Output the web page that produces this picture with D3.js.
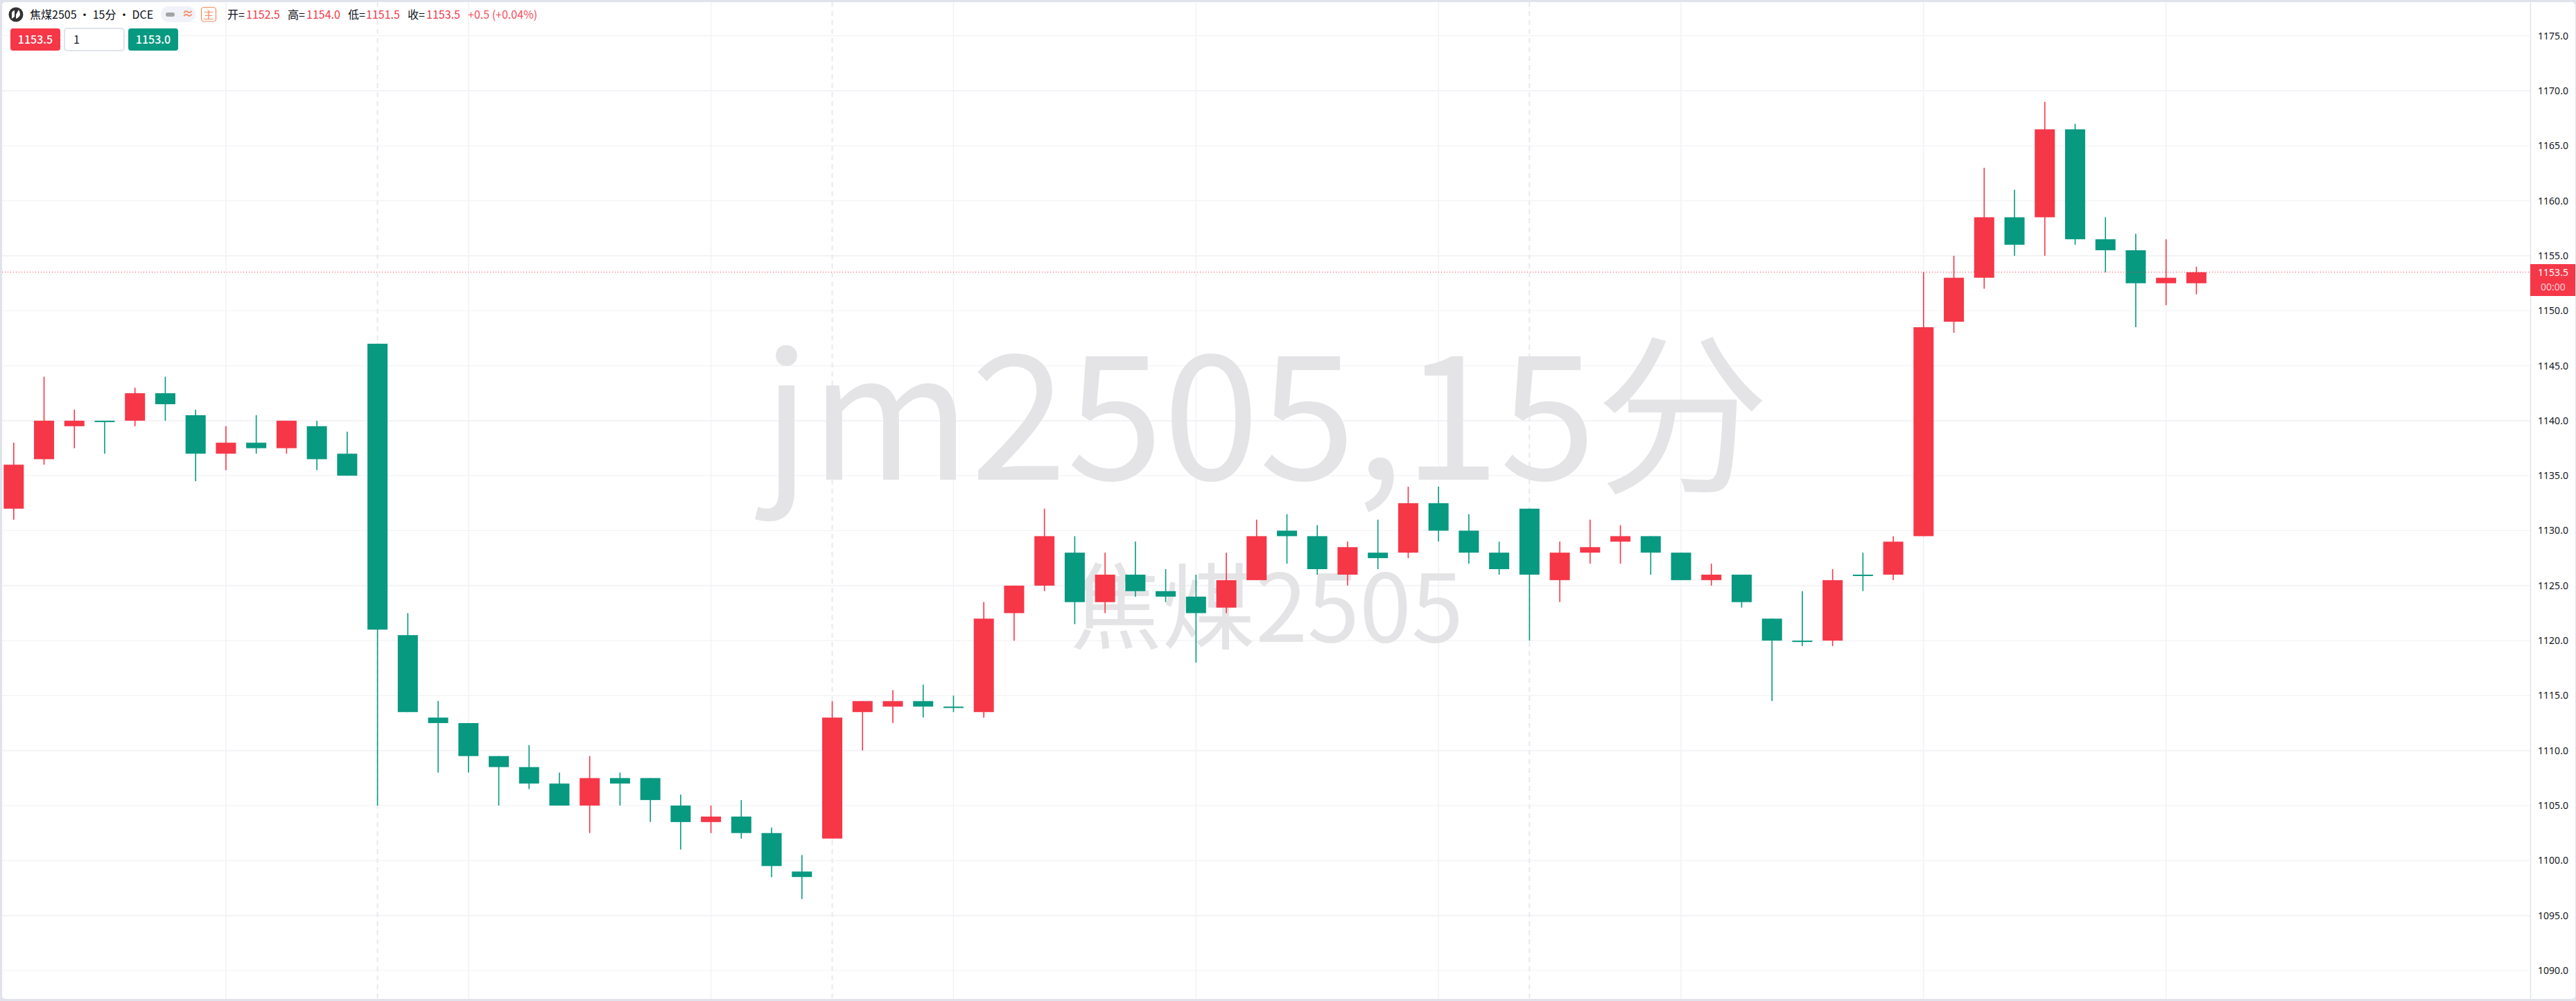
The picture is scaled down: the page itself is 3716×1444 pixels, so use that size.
<!DOCTYPE html>
<html>

    <head>
        <meta charset="utf-8">
        <script src="https://d3js.org/d3.v7.min.js"></script>
        <style>
            html, body { margin: 0; padding: 0; background: #e0e3eb; }
            svg { display: block; }
            text { font-family: "Noto Sans CJK SC", "Noto Sans", sans-serif; }
        </style>
    </head>

    <body>
        <div id="chart-container"></div>

        <script>
            // Candles, oldest first (15 minute bars)
            const opens = [
                1132, 1136.5, 1139.5, 1140, 1140, 1142.5, 1140.5, 1137, 1138, 1137.5,
                1139.5, 1137, 1147, 1120.5, 1113, 1112.5, 1109.5, 1108.5, 1107, 1105,
                1107.5, 1107.5, 1105, 1103.5, 1104, 1102.5, 1099, 1102, 1113.5, 1114,
                1114.5, 1114, 1113.5, 1122.5, 1125, 1128, 1123.5, 1126, 1124.5, 1124,
                1123, 1125.5, 1130, 1129.5, 1126, 1128, 1128, 1132.5, 1130, 1128,
                1132, 1125.5, 1128, 1129, 1129.5, 1128, 1125.5, 1126, 1122, 1120,
                1120, 1126, 1126, 1129.5, 1149, 1153, 1158.5, 1158.5, 1166.5, 1156.5,
                1155.5, 1152.5, 1152.5
            ];
            const highs = [
                1138, 1144, 1141, 1140, 1143, 1144, 1141, 1139.5, 1140.5, 1140,
                1140, 1139, 1147, 1122.5, 1114.5, 1112.5, 1109.5, 1110.5, 1108, 1109.5,
                1108, 1107.5, 1106, 1105, 1105.5, 1103, 1100.5, 1114.5, 1114.5, 1115.5,
                1116, 1115, 1123.5, 1125, 1132, 1129.5, 1128, 1129, 1126.5, 1126,
                1128, 1131, 1131.5, 1130.5, 1129, 1131, 1134, 1134, 1131.5, 1129,
                1132, 1129, 1131, 1130.5, 1129.5, 1128, 1127, 1126, 1122, 1124.5,
                1126.5, 1128, 1129.5, 1153.5, 1155, 1163, 1161, 1169, 1167, 1158.5,
                1157, 1156.5, 1154
            ];
            const lows = [
                1131, 1136, 1137.5, 1137, 1139.5, 1140, 1134.5, 1135.5, 1137, 1137,
                1135.5, 1135, 1105, 1113.5, 1108, 1108, 1105, 1106.5, 1105, 1102.5,
                1105, 1103.5, 1101, 1102.5, 1102, 1098.5, 1096.5, 1102, 1110, 1112.5,
                1113, 1113.5, 1113, 1120, 1124.5, 1121.5, 1122.5, 1124, 1123.5, 1118,
                1122.5, 1125.5, 1127, 1126, 1125, 1126.5, 1127.5, 1129, 1127, 1126,
                1120, 1123.5, 1127, 1127, 1126, 1125.5, 1125, 1123, 1114.5, 1119.5,
                1119.5, 1124.5, 1125.5, 1129.5, 1148, 1152, 1155, 1155, 1156, 1153.5,
                1148.5, 1150.5, 1151.5
            ];
            const closes = [
                1136, 1140, 1140, 1140, 1142.5, 1141.5, 1137, 1138, 1137.5, 1140,
                1136.5, 1135, 1121, 1113.5, 1112.5, 1109.5, 1108.5, 1107, 1105, 1107.5,
                1107, 1105.5, 1103.5, 1104, 1102.5, 1099.5, 1098.5, 1113, 1114.5, 1114.5,
                1114, 1114, 1122, 1125, 1129.5, 1123.5, 1126, 1124.5, 1124, 1122.5,
                1125.5, 1129.5, 1129.5, 1126.5, 1128.5, 1127.5, 1132.5, 1130, 1128, 1126.5,
                1126, 1128, 1128.5, 1129.5, 1128, 1125.5, 1126, 1123.5, 1120, 1120,
                1125.5, 1126, 1129, 1148.5, 1153, 1158.5, 1156, 1166.5, 1156.5, 1155.5,
                1152.5, 1153, 1153.5
            ];

            // Axis ticks and the bar indexes where vertical grid lines sit
            const priceTicks = d3.range( 1090, 1176, 5 );
            const heavyTicks = [ 1095, 1110, 1125, 1140, 1155, 1170 ];
            const solidGridBars = [ 7, 15, 23, 31, 39, 47, 55, 63, 71 ];
            const dashedGridBars = [ 12, 27, 50 ];

            // Legend values
            const lastPrice = 1153.5;
            const bidAsk = [ "1153.5", "1", "1153.0" ];
            const ohlcLabels = [ "开", "高", "低", "收" ];
            const ohlcValues = [ "1152.5", "1154.0", "1151.5", "1153.5" ];

            const width = 3716;
            const height = 1444;
            const plot = { left: 3, right: 3650, top: 3, bottom: 1441 };
            const upColor = "#f53748";
            const downColor = "#089981";
            const bodyWidth = 29;

            const svg = d3.select( "#chart-container" )
                .append( "svg" )
                .attr( "width", width )
                .attr( "height", height );

            const xScale = d3.scaleLinear()
                .domain( [ 0, opens.length - 1 ] )
                .range( [ 19.8, 3168.4 ] );

            const yScale = d3.scaleLinear()
                .domain( [ 1175, 1090 ] )
                .range( [ 51.7, 1400 ] );

            // Card
            svg.append( "rect" )
                .attr( "x", plot.left )
                .attr( "y", plot.top )
                .attr( "width", width - 1 - plot.left )
                .attr( "height", plot.bottom - plot.top )
                .attr( "rx", 5 )
                .attr( "fill", "#ffffff" );

            // Grid
            const grid = svg.append( "g" );

            grid.selectAll( "line.h" )
                .data( priceTicks )
                .enter()
                .append( "line" )
                .attr( "class", "h" )
                .attr( "x1", plot.left )
                .attr( "x2", plot.right )
                .attr( "y1", d => yScale( d ) )
                .attr( "y2", d => yScale( d ) )
                .attr( "stroke", "#f3f3f7" )
                .attr( "stroke-width", d => heavyTicks.includes( d ) ? 2 : 1.2 );

            grid.selectAll( "line.v" )
                .data( solidGridBars )
                .enter()
                .append( "line" )
                .attr( "class", "v" )
                .attr( "x1", d => xScale( d ) )
                .attr( "x2", d => xScale( d ) )
                .attr( "y1", plot.top )
                .attr( "y2", plot.bottom )
                .attr( "stroke", "#f2f2f7" )
                .attr( "stroke-width", 1.5 );

            grid.selectAll( "line.d" )
                .data( dashedGridBars )
                .enter()
                .append( "line" )
                .attr( "class", "d" )
                .attr( "x1", d => xScale( d ) )
                .attr( "x2", d => xScale( d ) )
                .attr( "y1", plot.top )
                .attr( "y2", plot.bottom )
                .attr( "stroke", "#e8e8f1" )
                .attr( "stroke-width", 2 )
                .attr( "stroke-dasharray", "7 6" );

            // Watermark
            svg.append( "text" )
                .attr( "x", 1826 )
                .attr( "y", 692 )
                .attr( "text-anchor", "middle" )
                .attr( "font-size", 250 )
                .attr( "fill", "#e4e4e6" )
                .text( "jm2505,15分" );

            svg.append( "text" )
                .attr( "x", 1826 )
                .attr( "y", 926 )
                .attr( "text-anchor", "middle" )
                .attr( "font-size", 135 )
                .attr( "fill", "#e4e4e6" )
                .text( "焦煤2505" );

            // Candles
            const candleColor = i => closes[ i ] > opens[ i ] ? upColor : downColor;
            const candles = svg.append( "g" )
                .selectAll( "g" )
                .data( d3.range( opens.length ) )
                .enter()
                .append( "g" );

            candles.append( "line" )
                .attr( "x1", i => xScale( i ) )
                .attr( "x2", i => xScale( i ) )
                .attr( "y1", i => yScale( highs[ i ] ) )
                .attr( "y2", i => yScale( lows[ i ] ) )
                .attr( "stroke", candleColor )
                .attr( "stroke-width", 1.6 );

            candles.append( "rect" )
                .attr( "x", i => xScale( i ) - bodyWidth / 2 )
                .attr( "y", i => yScale( Math.max( opens[ i ], closes[ i ] ) ) )
                .attr( "width", bodyWidth )
                .attr( "height", i => Math.max( 2, Math.abs( yScale( opens[ i ] ) - yScale( closes[ i ] ) ) ) )
                .attr( "fill", candleColor );

            // Last price line
            svg.append( "line" )
                .attr( "x1", plot.left )
                .attr( "x2", plot.right )
                .attr( "y1", Math.round( yScale( lastPrice ) ) - 0.5 )
                .attr( "y2", Math.round( yScale( lastPrice ) ) - 0.5 )
                .attr( "stroke", upColor )
                .attr( "stroke-width", 1 )
                .attr( "stroke-dasharray", "1 3" );

            // Price axis
            const axis = svg.append( "g" )
                .attr( "transform", `translate(${ plot.right }, 0)` )
                .call( d3.axisRight( yScale )
                    .tickValues( priceTicks )
                    .tickFormat( d3.format( ".1f" ) )
                    .tickSize( 0 )
                    .tickPadding( 0 ) );

            axis.select( ".domain" ).remove();
            axis.selectAll( "text" )
                .attr( "x", 33 )
                .attr( "text-anchor", "middle" )
                .attr( "fill", "#131722" )
                .style( "font-size", "14px" )
                .style( "font-family", "'Noto Sans', sans-serif" );

            svg.append( "line" )
                .attr( "x1", plot.right + 0.5 )
                .attr( "x2", plot.right + 0.5 )
                .attr( "y1", plot.top )
                .attr( "y2", plot.bottom )
                .attr( "stroke", "#e0e3eb" )
                .attr( "stroke-width", 1.5 );

            // Last price tag
            svg.append( "rect" )
                .attr( "x", plot.right )
                .attr( "y", 381 )
                .attr( "width", 65 )
                .attr( "height", 46 )
                .attr( "fill", upColor );

            svg.append( "text" )
                .attr( "x", plot.right + 33 )
                .attr( "y", 398 )
                .attr( "text-anchor", "middle" )
                .attr( "font-size", 14 )
                .attr( "fill", "#ffffff" )
                .style( "font-family", "'Noto Sans', sans-serif" )
                .text( d3.format( ".1f" )( lastPrice ) );

            svg.append( "text" )
                .attr( "x", plot.right + 33 )
                .attr( "y", 419 )
                .attr( "text-anchor", "middle" )
                .attr( "font-size", 14 )
                .attr( "fill", "#fcd0d4" )
                .style( "font-family", "'Noto Sans', sans-serif" )
                .text( "00:00" );

            // Legend, first row
            const legend = svg.append( "g" );

            legend.append( "circle" )
                .attr( "cx", 23 )
                .attr( "cy", 21 )
                .attr( "r", 10.5 )
                .attr( "fill", "#333333" );

            legend.append( "path" )
                .attr( "d", "M17 27 L17 18 Q19 15 21 15 L21 24 Z M23 27 L23 21 L27 14 Q29 18 29 21 Q28 25 23 27 Z" )
                .attr( "fill", "#ffffff" );

            legend.append( "text" )
                .attr( "x", 43 )
                .attr( "y", 27 )
                .attr( "font-size", 16 )
                .attr( "fill", "#0b0e16" )
                .text( "焦煤2505 • 15分 • DCE" );

            legend.append( "rect" )
                .attr( "x", 232 )
                .attr( "y", 9 )
                .attr( "width", 50 )
                .attr( "height", 23 )
                .attr( "rx", 11 )
                .attr( "fill", "#f1f1f9" );

            legend.append( "rect" )
                .attr( "x", 239 )
                .attr( "y", 18 )
                .attr( "width", 13 )
                .attr( "height", 6 )
                .attr( "rx", 3 )
                .attr( "fill", "#a3a3a6" );

            legend.append( "text" )
                .attr( "x", 271 )
                .attr( "y", 26 )
                .attr( "text-anchor", "middle" )
                .attr( "font-size", 17 )
                .attr( "font-weight", 700 )
                .attr( "fill", "#f98a5c" )
                .text( "≈" );

            legend.append( "rect" )
                .attr( "x", 290.5 )
                .attr( "y", 10.5 )
                .attr( "width", 21 )
                .attr( "height", 20.5 )
                .attr( "rx", 4 )
                .attr( "fill", "#ffffff" )
                .attr( "stroke", "#f98a5c" )
                .attr( "stroke-width", 1.2 );

            legend.append( "text" )
                .attr( "x", 301 )
                .attr( "y", 26.5 )
                .attr( "text-anchor", "middle" )
                .attr( "font-size", 15 )
                .attr( "fill", "#f98a5c" )
                .text( "主" );

            const labelX = [ 328, 415, 502, 588 ];
            const valueX = [ 355, 442, 528, 615 ];

            ohlcLabels.forEach( ( label, i ) => {
                legend.append( "text" )
                    .attr( "x", labelX[ i ] )
                    .attr( "y", 27 )
                    .attr( "font-size", 16 )
                    .attr( "fill", "#0b0e16" )
                    .text( label + "=" );

                legend.append( "text" )
                    .attr( "x", valueX[ i ] )
                    .attr( "y", 27 )
                    .attr( "font-size", 16 )
                    .attr( "fill", upColor )
                    .text( ohlcValues[ i ] );
            } );

            legend.append( "text" )
                .attr( "x", 675 )
                .attr( "y", 27 )
                .attr( "font-size", 16 )
                .attr( "fill", "#f64c5c" )
                .text( "+0.5 (+0.04%)" );

            // Legend, second row: bid, lots, ask
            const buttons = [
                { x: 15, w: 72, fill: upColor, stroke: "none", color: "#ffffff", anchor: "middle" },
                { x: 93, w: 86, fill: "#ffffff", stroke: "#dfe3ec", color: "#131722", anchor: "start" },
                { x: 185, w: 72, fill: downColor, stroke: "none", color: "#ffffff", anchor: "middle" }
            ];

            buttons.forEach( ( b, i ) => {
                legend.append( "rect" )
                    .attr( "x", b.x )
                    .attr( "y", 41 )
                    .attr( "width", b.w )
                    .attr( "height", 32 )
                    .attr( "rx", 4 )
                    .attr( "fill", b.fill )
                    .attr( "stroke", b.stroke )
                    .attr( "stroke-width", 2 );

                legend.append( "text" )
                    .attr( "x", b.anchor === "middle" ? b.x + b.w / 2 : b.x + 13 )
                    .attr( "y", 63 )
                    .attr( "text-anchor", b.anchor )
                    .attr( "font-size", 16 )
                    .attr( "font-weight", i === 1 ? 400 : 500 )
                    .attr( "fill", b.color )
                    .text( bidAsk[ i ] );
            } );
        </script>
    </body>

</html>
